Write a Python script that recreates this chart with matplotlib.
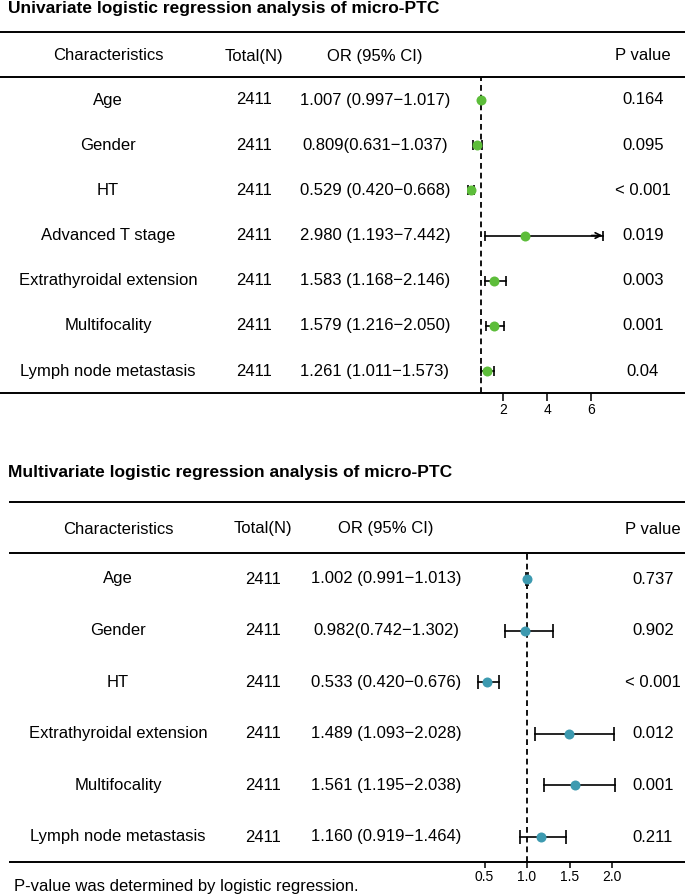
import matplotlib
matplotlib.use("Agg")
import matplotlib.pyplot as plt

plt.rcParams['font.family'] = ['Liberation Sans', 'DejaVu Sans']

# ---------------- data ----------------
uni_title = "Univariate logistic regression analysis of micro-PTC"
uni_chars = ["Age", "Gender", "HT", "Advanced T stage", "Extrathyroidal extension",
             "Multifocality", "Lymph node metastasis"]
uni_n = [2411, 2411, 2411, 2411, 2411, 2411, 2411]
uni_or_text = ["1.007 (0.997\u22121.017)", "0.809(0.631\u22121.037)", "0.529 (0.420\u22120.668)",
               "2.980 (1.193\u22127.442)", "1.583 (1.168\u22122.146)", "1.579 (1.216\u22122.050)",
               "1.261 (1.011\u22121.573)"]
uni_or = [1.007, 0.809, 0.529, 2.980, 1.583, 1.579, 1.261]
uni_lo = [0.997, 0.631, 0.420, 1.193, 1.168, 1.216, 1.011]
uni_hi = [1.017, 1.037, 0.668, 7.442, 2.146, 2.050, 1.573]
uni_p = ["0.164", "0.095", "< 0.001", "0.019", "0.003", "0.001", "0.04"]
uni_ticks = [2, 4, 6]
uni_xlim = (0.35, 6.65)

multi_title = "Multivariate logistic regression analysis of micro-PTC"
multi_chars = ["Age", "Gender", "HT", "Extrathyroidal extension", "Multifocality",
               "Lymph node metastasis"]
multi_n = [2411, 2411, 2411, 2411, 2411, 2411]
multi_or_text = ["1.002 (0.991\u22121.013)", "0.982(0.742\u22121.302)", "0.533 (0.420\u22120.676)",
                 "1.489 (1.093\u22122.028)", "1.561 (1.195\u22122.038)", "1.160 (0.919\u22121.464)"]
multi_or = [1.002, 0.982, 0.533, 1.489, 1.561, 1.160]
multi_lo = [0.991, 0.742, 0.420, 1.093, 1.195, 0.919]
multi_hi = [1.013, 1.302, 0.676, 2.028, 2.038, 1.464]
multi_p = ["0.737", "0.902", "< 0.001", "0.012", "0.001", "0.211"]
multi_ticks = [0.5, 1.0, 1.5, 2.0]
multi_tick_labels = ["0.5", "1.0", "1.5", "2.0"]
multi_xlim = (0.33, 2.09)

headers = ["Characteristics", "Total(N)", "OR (95% CI)", "P value"]
footnote = "P-value was determined by logistic regression."

# ---------------- figure ----------------
W, H = 685, 896
fig = plt.figure(figsize=(W / 100, H / 100), dpi=100)
ax0 = fig.add_axes([0, 0, 1, 1])
ax0.set_xlim(0, W)
ax0.set_ylim(H, 0)
ax0.axis('off')

FS = 12
RULE_LW = 1.4


def px_axes(x0, x1, y0, y1):
    return fig.add_axes([x0 / W, 1 - y1 / H, (x1 - x0) / W, (y1 - y0) / H])


def panel(title, title_y, line_x0, top_line, header_y, header_line, bottom_line,
          row0, row_step, cols, chars, ns, or_text, ors, los, his, ps,
          xlim, one_px, px_per_unit, ticks, tick_labels, color, capsize, tick_len, tick_pad):
    ax0.text(8, title_y, title, fontsize=12.5, fontweight='bold', ha='left', va='center')
    for y in (top_line, header_line, bottom_line):
        ax0.plot([line_x0, W], [y, y], color='black', lw=RULE_LW, solid_capstyle='butt')
    for cx, h in zip(cols, headers):
        ax0.text(cx, header_y, h, fontsize=FS, ha='center', va='center')
    for i in range(len(chars)):
        y = row0 + i * row_step
        ax0.text(cols[0], y, chars[i], fontsize=FS, ha='center', va='center')
        ax0.text(cols[1], y, str(ns[i]), fontsize=FS, ha='center', va='center')
        ax0.text(cols[2], y, or_text[i], fontsize=FS, ha='center', va='center')
        ax0.text(cols[3], y, ps[i], fontsize=FS, ha='center', va='center')

    # forest axes
    x0 = one_px + (xlim[0] - 1) * px_per_unit
    x1 = one_px + (xlim[1] - 1) * px_per_unit
    ax = px_axes(x0, x1, header_line, bottom_line)
    n = len(chars)
    ylo = (header_line - row0) / row_step
    yhi = (bottom_line - row0) / row_step
    ax.set_xlim(*xlim)
    ax.set_ylim(yhi, ylo)
    ax.patch.set_alpha(0)
    for s in ax.spines.values():
        s.set_visible(False)
    ax.set_yticks([])
    ax.set_xticks(ticks)
    ax.set_xticklabels(tick_labels, fontsize=10)
    ax.tick_params(axis='x', direction='out', length=tick_len, width=1.1, pad=tick_pad)
    ax.axvline(1, color='black', lw=1.3, linestyle=(0, (3.2, 2.2)), zorder=1)
    for i in range(n):
        lo = max(los[i], xlim[0])
        hi_c = min(his[i], xlim[1] - 0.02 * (xlim[1] - xlim[0]))
        ax.plot([lo, hi_c], [i, i], color='black', lw=1.2, zorder=2)
        ax.plot([lo], [i], marker='|', color='black', markersize=capsize * 2,
                markeredgewidth=1.2, zorder=2)
        ax.plot([hi_c], [i], marker='|', color='black', markersize=capsize * 2,
                markeredgewidth=1.2, zorder=2)
        if his[i] > xlim[1]:
            ax.annotate('', xy=(hi_c, i), xytext=(hi_c - 0.5, i),
                        arrowprops=dict(arrowstyle='->', color='black', lw=1.2,
                                        shrinkA=0, shrinkB=0, mutation_scale=10))
        ax.plot([ors[i]], [i], marker='o', color=color, markersize=7.2,
                markeredgewidth=0, zorder=3)
    return ax


panel(uni_title, 9, 0, 32, 56, 77, 393, 100, 45.17,
      [108, 254, 375, 643], uni_chars, uni_n, uni_or_text, uni_or, uni_lo, uni_hi, uni_p,
      uni_xlim, 481, 22.0, uni_ticks, [str(t) for t in uni_ticks], '#5DBD3A', 3.6, 5.5, 1.5)

panel(multi_title, 472, 9, 502, 529, 553, 862, 579, 51.6,
      [118, 263, 386, 653], multi_chars, multi_n, multi_or_text, multi_or, multi_lo, multi_hi,
      multi_p, multi_xlim, 527, 85.0, multi_ticks, multi_tick_labels, '#3D9AB0', 4.7, 4.5, 1.5)

ax0.text(14, 887, footnote, fontsize=FS, ha='left', va='center')

fig.savefig('out.png', dpi=100)
